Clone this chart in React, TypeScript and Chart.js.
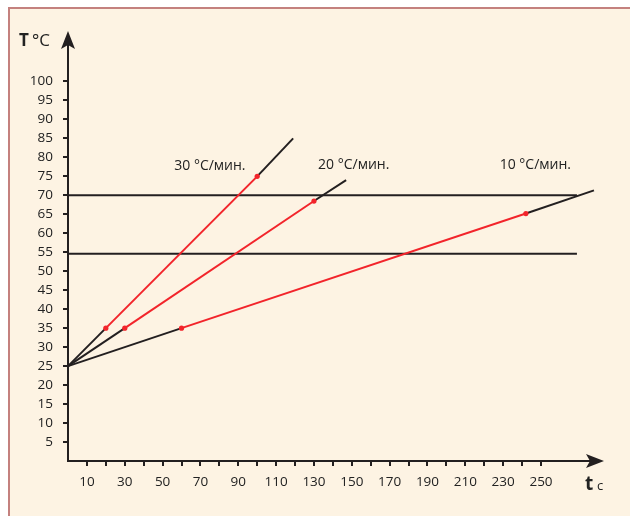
import { useEffect, useRef } from "react";
import { Chart, registerables } from "chart.js";

Chart.register(...registerables);

// ---- data ----
const xTickMarks = [10, 20, 30, 40, 50, 60, 70, 80, 90, 100, 110, 120, 130, 140, 150, 160, 170, 180, 190, 200, 210, 220, 230, 240, 250];
const xTickLabels = [10, 30, 50, 70, 90, 110, 130, 150, 170, 190, 210, 230, 250];
const yTickMarks = [5, 10, 15, 20, 25, 30, 35, 40, 45, 50, 55, 60, 65, 70, 75, 80, 85, 90, 95, 100];

// heating at 30 °C/min
const rate30Start = [{ x: 0, y: 25 }, { x: 20, y: 35 }];
const rate30Red = [{ x: 20, y: 35 }, { x: 100, y: 75 }];
const rate30End = [{ x: 100, y: 75 }, { x: 119, y: 85 }];
// heating at 20 °C/min
const rate20Start = [{ x: 0, y: 25 }, { x: 30, y: 35 }];
const rate20Red = [{ x: 30, y: 35 }, { x: 130, y: 68.5 }];
const rate20End = [{ x: 130, y: 68.5 }, { x: 147, y: 74 }];
// heating at 10 °C/min
const rate10Start = [{ x: 0, y: 25 }, { x: 60, y: 35 }];
const rate10Red = [{ x: 60, y: 35 }, { x: 242, y: 65.2 }];
const rate10End = [{ x: 242, y: 65.2 }, { x: 278, y: 71.3 }];

const upperLevel = [{ x: 0, y: 70 }, { x: 269, y: 70 }];
const lowerLevel = [{ x: 0, y: 54.6 }, { x: 269, y: 54.6 }];

const rateLabels = ["30 °C/мин.", "20 °C/мин.", "10 °C/мин."];
const rateLabelPos = [{ x: 75, y: 77.7 }, { x: 151, y: 78 }, { x: 247, y: 78 }];

const X_MAX = 283.3;
const Y_MAX = 113.3;

const INK = "#231f20";
const RED = "#f2242b";
const TEXT = "#222222";
const FONT = "'Open Sans', sans-serif";

const decorPlugin = {
  id: "decor",
  afterDraw(chart: any) {
    const { ctx, chartArea, scales } = chart;
    const x0 = scales.x.getPixelForValue(0);
    const y0 = scales.y.getPixelForValue(0);
    ctx.save();
    ctx.strokeStyle = INK;
    ctx.fillStyle = INK;
    ctx.lineWidth = 2;
    // x axis
    ctx.beginPath();
    ctx.moveTo(x0 - 1, y0);
    ctx.lineTo(chartArea.right - 10, y0);
    ctx.stroke();
    ctx.beginPath();
    ctx.moveTo(chartArea.right, y0);
    ctx.lineTo(chartArea.right - 18, y0 - 7);
    ctx.lineTo(chartArea.right - 14, y0);
    ctx.lineTo(chartArea.right - 18, y0 + 7);
    ctx.closePath();
    ctx.fill();
    // y axis
    ctx.beginPath();
    ctx.moveTo(x0, y0 + 1);
    ctx.lineTo(x0, chartArea.top + 10);
    ctx.stroke();
    ctx.beginPath();
    ctx.moveTo(x0, chartArea.top);
    ctx.lineTo(x0 - 7, chartArea.top + 18);
    ctx.lineTo(x0, chartArea.top + 14);
    ctx.lineTo(x0 + 7, chartArea.top + 18);
    ctx.closePath();
    ctx.fill();

    // rate labels
    ctx.fillStyle = TEXT;
    ctx.font = `14px ${FONT}`;
    ctx.textAlign = "center";
    ctx.textBaseline = "middle";
    rateLabels.forEach((t, i) => {
      const p = rateLabelPos[i];
      ctx.fillText(t, scales.x.getPixelForValue(p.x), scales.y.getPixelForValue(p.y));
    });

    // axis titles
    ctx.textAlign = "left";
    ctx.textBaseline = "alphabetic";
    ctx.font = `bold 17px ${FONT}`;
    ctx.fillText("T", 19, 46);
    ctx.font = `17px ${FONT}`;
    ctx.fillText("°C", 32, 46);
    ctx.font = `bold 19px ${FONT}`;
    ctx.fillText("t", 585, 490);
    ctx.font = `13px ${FONT}`;
    ctx.fillText("c", 597, 490);
    ctx.restore();
  },
};

export default function App() {
  const canvasRef = useRef<HTMLCanvasElement>(null);

  useEffect(() => {
    if (!canvasRef.current) return;
    const line = (data: any, color: string, withPoints = false) => ({
      data,
      borderColor: color,
      backgroundColor: color,
      borderWidth: 2,
      pointRadius: withPoints ? 2.6 : 0,
      pointBorderWidth: 0,
      showLine: true,
      fill: false,
      clip: false,
    });
    const chart = new Chart(canvasRef.current, {
      type: "scatter",
      data: {
        datasets: [
          line(rate30Red, RED, true),
          line(rate20Red, RED, true),
          line(rate10Red, RED, true),
          line(rate30Start, INK),
          line(rate30End, INK),
          line(rate20Start, INK),
          line(rate20End, INK),
          line(rate10Start, INK),
          line(rate10End, INK),
          line(upperLevel, INK),
          line(lowerLevel, INK),
        ] as any,
      },
      plugins: [decorPlugin],
      options: {
        animation: false,
        responsive: false,
        maintainAspectRatio: false,
        layout: { padding: { top: 31, right: 26, left: 0, bottom: 0 } },
        plugins: { legend: { display: false }, tooltip: { enabled: false } },
        scales: {
          x: {
            type: "linear",
            min: 0,
            max: X_MAX,
            afterFit(scale: any) {
              scale.height = 55;
            },
            afterBuildTicks(scale: any) {
              scale.ticks = xTickMarks.map((v) => ({ value: v }));
            },
            border: { display: false },
            grid: { drawOnChartArea: false, drawTicks: true, tickLength: 5, lineWidth: 2, color: INK },
            ticks: {
              padding: 8,
              autoSkip: false,
              maxRotation: 0,
              color: TEXT,
              font: { family: "'Open Sans', sans-serif", size: 13.5 },
              callback: (v: any) => (xTickLabels.includes(Number(v)) ? String(v) : ""),
            },
          },
          y: {
            type: "linear",
            min: 0,
            max: Y_MAX,
            afterFit(scale: any) {
              scale.width = 68;
            },
            afterBuildTicks(scale: any) {
              scale.ticks = yTickMarks.map((v) => ({ value: v }));
            },
            border: { display: false },
            grid: { drawOnChartArea: false, drawTicks: true, tickLength: 5, lineWidth: 2, color: INK },
            ticks: {
              padding: 10,
              autoSkip: false,
              color: TEXT,
              font: { family: "'Open Sans', sans-serif", size: 13.5 },
              callback: (v: any) => String(v),
            },
          },
        },
      } as any,
    });
    return () => chart.destroy();
  }, []);

  return (
    <div style={{ position: "fixed", left: 0, top: 0, width: 630, height: 516, background: "#ffffff", overflow: "hidden" }}>
      <div
        style={{
          position: "absolute",
          left: 8,
          top: 7,
          width: 660,
          height: 560,
          background: "#fdf3e3",
          borderTop: "2px solid #c4817e",
          borderLeft: "2px solid #c4817e",
        }}
      />
      <canvas ref={canvasRef} width={630} height={516} style={{ position: "absolute", left: 0, top: 0 }} />
    </div>
  );
}
